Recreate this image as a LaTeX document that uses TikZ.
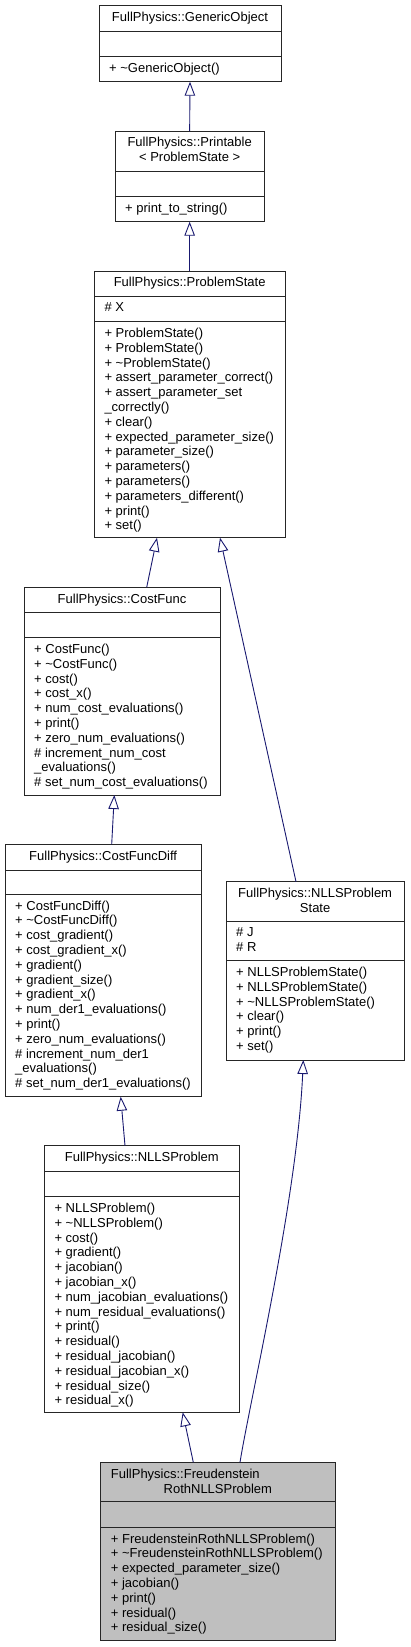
\documentclass[tikz,border=0pt]{standalone}
\usepackage{fontspec}
\setmainfont{Liberation Sans}
\usetikzlibrary{arrows.meta}
\definecolor{edgeblue}{HTML}{191970}
\definecolor{hlgray}{HTML}{BFBFBF}
\newcommand\fs{\fontsize{13}{14.8}\selectfont}
\newcommand\fl{\rule{0pt}{11pt}}
\newcommand\tl{\textasciitilde{}}
\tikzset{
  cls/.style={draw=black!85, line width=1pt, rectangle, inner sep=0pt, outer sep=0pt},
  div/.style={draw=black!85, line width=1pt},
  ttl/.style={anchor=north, inner sep=0pt, align=center, font=\fs},
  ttll/.style={anchor=north west, inner sep=0pt, align=left, font=\fs},
  mem/.style={anchor=north west, inner sep=0pt, align=left, font=\fs},
  inh/.style={draw=edgeblue, line width=0.9pt, -{Triangle[open, length=14pt, width=10.5pt, fill=white]}},
}
\begin{document}
\begin{tikzpicture}[x=1pt,y=-1pt]
\fill[white] (0,0) rectangle (410,1647);
\useasboundingbox (0,0) rectangle (410,1647);

% ---------- GenericObject
\node[cls, minimum width=182pt, minimum height=76pt] (go) at (190,43.7) {};
\draw[div] ([yshift=-26]go.north west) -- ([yshift=-26]go.north east);
\draw[div] ([yshift=-51]go.north west) -- ([yshift=-51]go.north east);
\node[ttl] (go-t) at ([yshift=-4.5]go.north) {\fl FullPhysics::GenericObject};
\node[mem] (go-m) at ([xshift=10,yshift=-55.5]go.north west) {\fl + \tl GenericObject()};

% ---------- Printable
\node[cls, minimum width=149.3pt, minimum height=90.7pt] (pr) at (189.65,176.35) {};
\draw[div] ([yshift=-40.7]pr.north west) -- ([yshift=-40.7]pr.north east);
\draw[div] ([yshift=-65.7]pr.north west) -- ([yshift=-65.7]pr.north east);
\node[ttl] (pr-t) at ([yshift=-4.5]pr.north) {\fl FullPhysics::Printable\\< ProblemState >};
\node[mem] (pr-m) at ([xshift=10,yshift=-70.2]pr.north west) {\fl + print\_to\_string()};

% ---------- ProblemState
\node[cls, minimum width=190.7pt, minimum height=266.7pt] (ps) at (189.65,404.35) {};
\draw[div] ([yshift=-25]ps.north west) -- ([yshift=-25]ps.north east);
\draw[div] ([yshift=-50.7]ps.north west) -- ([yshift=-50.7]ps.north east);
\node[ttl] (ps-t) at ([yshift=-4.5]ps.north) {\fl FullPhysics::ProblemState};
\node[mem] (ps-a) at ([xshift=10,yshift=-29.5]ps.north west) {\fl \# X};
\node[mem] (ps-m) at ([xshift=10,yshift=-55.2]ps.north west) {\fl + ProblemState()\\
+ ProblemState()\\
+ \tl ProblemState()\\
+ assert\_parameter\_correct()\\
+ assert\_parameter\_set\\
\_correctly()\\
+ clear()\\
+ expected\_parameter\_size()\\
+ parameter\_size()\\
+ parameters()\\
+ parameters()\\
+ parameters\_different()\\
+ print()\\
+ set()};

% ---------- CostFunc
\node[cls, minimum width=196pt, minimum height=207.7pt] (cf) at (122,691.15) {};
\draw[div] ([yshift=-25]cf.north west) -- ([yshift=-25]cf.north east);
\draw[div] ([yshift=-50.4]cf.north west) -- ([yshift=-50.4]cf.north east);
\node[ttl] (cf-t) at ([yshift=-4.5]cf.north) {\fl FullPhysics::CostFunc};
\node[mem] (cf-m) at ([xshift=10,yshift=-54.9]cf.north west) {\fl + CostFunc()\\
+ \tl CostFunc()\\
+ cost()\\
+ cost\_x()\\
+ num\_cost\_evaluations()\\
+ print()\\
+ zero\_num\_evaluations()\\
\# increment\_num\_cost\\
\_evaluations()\\
\# set\_num\_cost\_evaluations()};

% ---------- CostFuncDiff
\node[cls, minimum width=196.3pt, minimum height=252.4pt] (cfd) at (103.15,970.5) {};
\draw[div] ([yshift=-25.7]cfd.north west) -- ([yshift=-25.7]cfd.north east);
\draw[div] ([yshift=-50]cfd.north west) -- ([yshift=-50]cfd.north east);
\node[ttl] (cfd-t) at ([yshift=-4.5]cfd.north) {\fl FullPhysics::CostFuncDiff};
\node[mem] (cfd-m) at ([xshift=10,yshift=-54.5]cfd.north west) {\fl + CostFuncDiff()\\
+ \tl CostFuncDiff()\\
+ cost\_gradient()\\
+ cost\_gradient\_x()\\
+ gradient()\\
+ gradient\_size()\\
+ gradient\_x()\\
+ num\_der1\_evaluations()\\
+ print()\\
+ zero\_num\_evaluations()\\
\# increment\_num\_der1\\
\_evaluations()\\
\# set\_num\_der1\_evaluations()};

% ---------- NLLSProblemState
\node[cls, minimum width=178.3pt, minimum height=178.3pt] (nps) at (315.15,970.85) {};
\draw[div] ([yshift=-39.3]nps.north west) -- ([yshift=-39.3]nps.north east);
\draw[div] ([yshift=-79]nps.north west) -- ([yshift=-79]nps.north east);
\node[ttl] (nps-t) at ([yshift=-4.5]nps.north) {\fl FullPhysics::NLLSProblem\\State};
\node[mem] (nps-a) at ([xshift=10,yshift=-43.8]nps.north west) {\fl \# J\\
\# R};
\node[mem] (nps-m) at ([xshift=10,yshift=-83.5]nps.north west) {\fl + NLLSProblemState()\\
+ NLLSProblemState()\\
+ \tl NLLSProblemState()\\
+ clear()\\
+ print()\\
+ set()};

% ---------- NLLSProblem
\node[cls, minimum width=195pt, minimum height=266.6pt] (np) at (141.8,1279) {};
\draw[div] ([yshift=-26]np.north west) -- ([yshift=-26]np.north east);
\draw[div] ([yshift=-51]np.north west) -- ([yshift=-51]np.north east);
\node[ttl] (np-t) at ([yshift=-4.5]np.north) {\fl FullPhysics::NLLSProblem};
\node[mem] (np-m) at ([xshift=10,yshift=-55.5]np.north west) {\fl + NLLSProblem()\\
+ \tl NLLSProblem()\\
+ cost()\\
+ gradient()\\
+ jacobian()\\
+ jacobian\_x()\\
+ num\_jacobian\_evaluations()\\
+ num\_residual\_evaluations()\\
+ print()\\
+ residual()\\
+ residual\_jacobian()\\
+ residual\_jacobian\_x()\\
+ residual\_size()\\
+ residual\_x()};

% ---------- FreudensteinRothNLLSProblem
\node[cls, fill=hlgray, minimum width=234.3pt, minimum height=177.7pt] (fr) at (217.85,1551.15) {};
\draw[div] ([yshift=-39.4]fr.north west) -- ([yshift=-39.4]fr.north east);
\draw[div] ([yshift=-65]fr.north west) -- ([yshift=-65]fr.north east);
\node[ttll] (fr-t1) at ([xshift=10,yshift=-4.5]fr.north west) {\fl FullPhysics::Freudenstein};
\node[ttl] (fr-t2) at ([yshift=-19.5]fr.north) {\fl RothNLLSProblem};
\node[mem] (fr-m) at ([xshift=10,yshift=-69.5]fr.north west) {\fl + FreudensteinRothNLLSProblem()\\
+ \tl FreudensteinRothNLLSProblem()\\
+ expected\_parameter\_size()\\
+ jacobian()\\
+ print()\\
+ residual()\\
+ residual\_size()};

% ---------- inheritance connectors
\draw[inh] (pr.north) -- (go.south);
\draw[inh] (ps.north) -- (pr.south);
\draw[inh] ([xshift=24.7]cf.north) -- ([xshift=-32.65]ps.south);
\draw[inh] ([xshift=-19.15]nps.north) -- ([xshift=30.35]ps.south);
\draw[inh] ([xshift=8.55]cfd.north) -- ([xshift=-7.7]cf.south);
\draw[inh] ([xshift=-16.8]np.north) -- ([xshift=17.55]cfd.south);
\draw[inh] ([xshift=-24.55]fr.north) -- ([xshift=40.9]np.south);
\draw[inh] ([xshift=22.15]fr.north) .. controls (250,1400) and (297,1200) .. ([xshift=-11.85]nps.south);
\end{tikzpicture}
\end{document}
